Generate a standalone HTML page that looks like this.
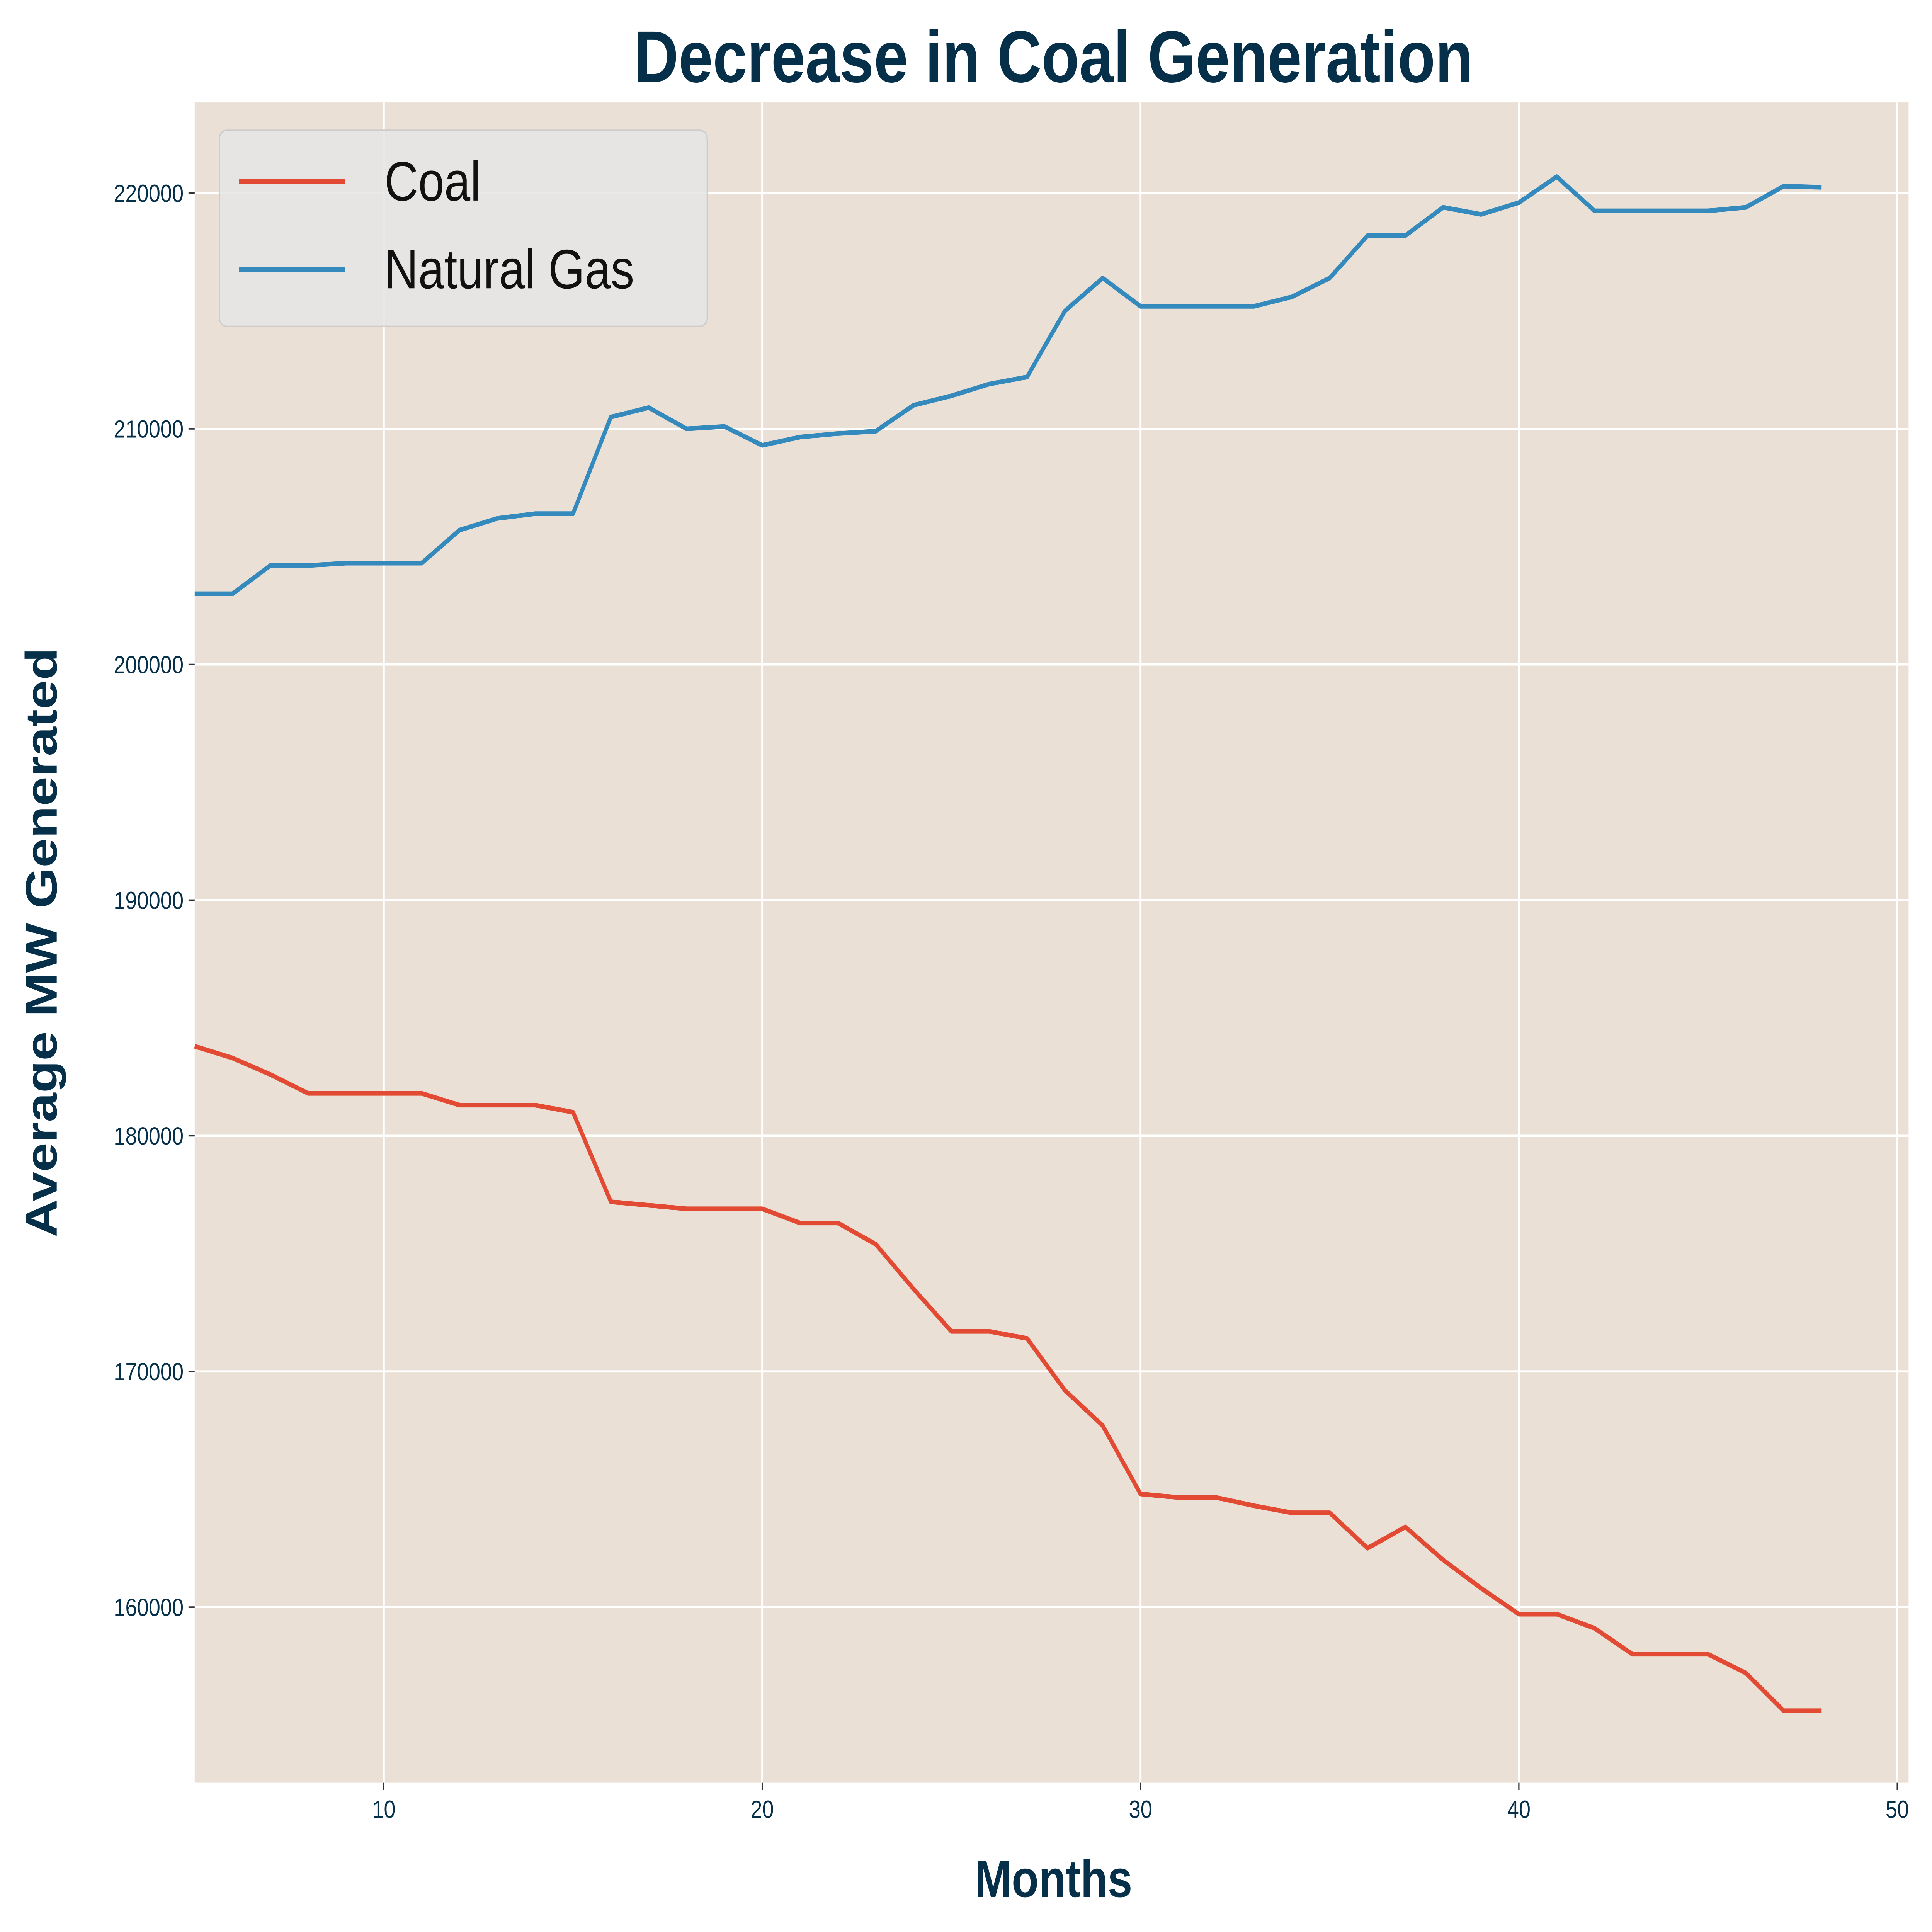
<!DOCTYPE html>
<html><head><meta charset="utf-8"><style>
html,body{margin:0;padding:0;background:#fff;width:100%;height:100%;overflow:hidden;}
svg{display:block;position:absolute;left:0;top:0;width:100vw;height:100vh;font-family:"Liberation Sans","DejaVu Sans",sans-serif;}
</style></head><body>
<svg id="chart" viewBox="0 0 1568 1320" preserveAspectRatio="none" xmlns="http://www.w3.org/2000/svg">
<rect x="0" y="0" width="1568" height="1320" fill="#ffffff"/>
<rect x="158" y="70" width="1391" height="1148" fill="#EAE0D6"/>
<g id="grid"></g>
<g id="series"></g>
<g id="ticks"></g>
<text x="855" y="56" text-anchor="middle" font-size="50" font-weight="bold" fill="#06304A">Decrease in Coal Generation</text>
<text x="855" y="1296" text-anchor="middle" font-size="36" font-weight="bold" fill="#06304A">Months</text>
<text transform="translate(46,644) rotate(-90)" text-anchor="middle" font-size="36" font-weight="bold" fill="#06304A">Average MW Generated</text>
<g>
<rect x="178" y="89" width="396" height="134" rx="6" fill="#E5E5E5" fill-opacity="0.85" stroke="#cccccc" stroke-width="1"/>
<line x1="194" y1="124" x2="280" y2="124" stroke="#E24A33" stroke-width="3.5"/>
<text x="312" y="137" font-size="38" fill="#111">Coal</text>
<line x1="194" y1="184" x2="280" y2="184" stroke="#348ABD" stroke-width="3.5"/>
<text x="312" y="197" font-size="38" fill="#111">Natural Gas</text>
</g>
</svg>
<script>
const months=[5,6,7,8,9,10,11,12,13,14,15,16,17,18,19,20,21,22,23,24,25,26,27,28,29,30,31,32,33,34,35,36,37,38,39,40,41,42,43,44,45,46,47,48];
const coal=[183800,183300,182600,181800,181800,181800,181800,181300,181300,181300,181000,177200,177050,176900,176900,176900,176300,176300,175400,173500,171700,171700,171400,169200,167700,164800,164650,164650,164300,164000,164000,162500,163400,162000,160800,159700,159700,159100,158000,158000,158000,157200,155600,155600];
const gas=[203000,203000,204200,204200,204300,204300,204300,205700,206200,206400,206400,210500,210900,210000,210100,209300,209650,209800,209900,211000,211400,211900,212200,215000,216400,215200,215200,215200,215200,215600,216400,218200,218200,219400,219100,219600,220700,219250,219250,219250,219250,219400,220300,220250];
const xTicks=[10,20,30,40,50];
const yTicks=[160000,170000,180000,190000,200000,210000,220000];
const L=158,R=1549,T=70,B=1218;
const xMin=5,xMax=50.3,yMin=152547,yMax=223850;
const NS="http://www.w3.org/2000/svg";
function xs(v){return L+(v-xMin)/(xMax-xMin)*(R-L);}
function ys(v){return B-(v-yMin)/(yMax-yMin)*(B-T);}
const grid=document.getElementById('grid'),ticks=document.getElementById('ticks'),series=document.getElementById('series');
function mk(t,a,p){const e=document.createElementNS(NS,t);for(const k in a)e.setAttribute(k,a[k]);p.appendChild(e);return e;}
xTicks.forEach(v=>{
 const g=mk('line',{x1:xs(v),x2:xs(v),y1:T,y2:B,stroke:'#fff','stroke-width':1.5},grid);
 
 
 const tk=mk('line',{x1:xs(v),x2:xs(v),y1:B,y2:B+5,stroke:'#333','stroke-width':1},ticks);
 
 
 const t=mk('text',{x:xs(v),y:B+24,'text-anchor':'middle','font-size':17,fill:'#06304A'},ticks);
 t.textContent=v;
 
 
});
yTicks.forEach(v=>{
 const g=mk('line',{x1:L,x2:R,y1:ys(v),y2:ys(v),stroke:'#fff','stroke-width':1.5},grid);
 
 
 const tk=mk('line',{x1:L-5,x2:L,y1:ys(v),y2:ys(v),stroke:'#333','stroke-width':1},ticks);
 
 
 const t=mk('text',{x:L-9,y:ys(v)+6,'text-anchor':'end','font-size':17,fill:'#06304A'},ticks);
 t.textContent=v;
 
 
});
function line(data,color,name){
 const d=data.map((v,i)=>(i?'L':'M')+xs(months[i]).toFixed(2)+' '+ys(v).toFixed(2)).join(' ');
 const p=mk('path',{d:d,fill:'none',stroke:color,'stroke-width':3.2,'stroke-linejoin':'round'},series);
 
 
}
line(coal,'#E24A33','coal-line');
line(gas,'#348ABD','natural-gas-line');
</script>
</body></html>
